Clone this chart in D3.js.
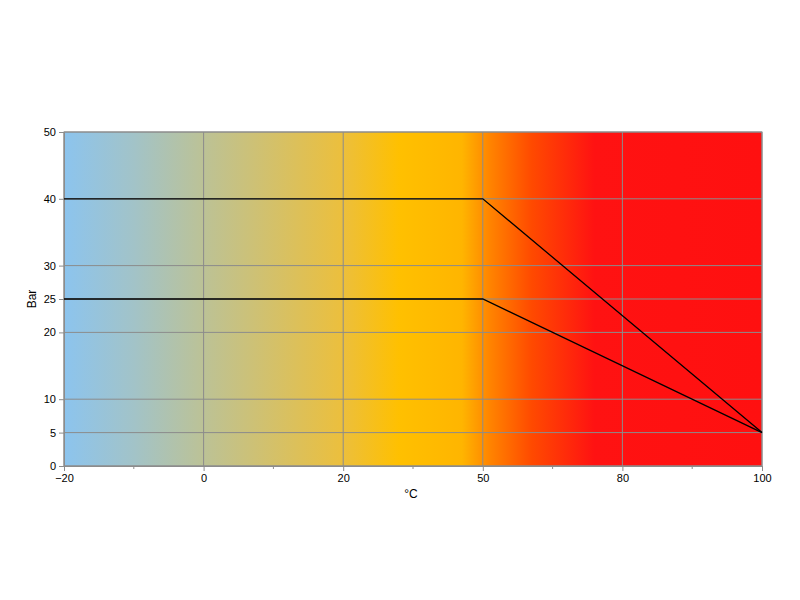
<!DOCTYPE html>
<html><head><meta charset="utf-8">
<script src="https://cdn.jsdelivr.net/npm/d3@7"></script>
<style>body{margin:0;background:#fff}</style></head>
<body><svg id="c" width="800" height="600"></svg>
<script>
const xTicks = [-20, 0, 20, 50, 80, 100];
const yTicks = [0, 5, 10, 20, 25, 30, 40, 50];
const upperTemp = [-20, 50, 100];
const upperBar = [40, 40, 5];
const lowerTemp = [-20, 50, 100];
const lowerBar = [25, 25, 5];

const svg = d3.select("#c");
const L = 64, R = 762, T = 132, B = 466;
const step = (R - L) / (xTicks.length - 1);
const x = d3.scaleLinear().domain(xTicks).range(xTicks.map((d, i) => L + i * step));
const y = d3.scaleLinear().domain([0, 50]).range([B, T]);

const defs = svg.append("defs");
const g = defs.append("linearGradient").attr("id", "bg").attr("x1", "0").attr("x2", "1").attr("y1", "0").attr("y2", "0");
[[0, "#8cc4ee"], [0.1, "#a2c3c8"], [0.2, "#bcc296"], [0.4, "#ecbf3c"], [0.48, "#ffc000"], [0.57, "#ffb500"], [0.61, "#ff8400"], [0.67, "#ff4a00"], [0.76, "#ff1212"], [1, "#ff1010"]]
  .forEach(([o, c]) => g.append("stop").attr("offset", o).attr("stop-color", c));

svg.append("rect").attr("x", L).attr("y", T).attr("width", R - L).attr("height", B - T).attr("fill", "url(#bg)");

// grid
svg.append("g").selectAll("line").data(yTicks).join("line")
  .attr("x1", L).attr("x2", R).attr("y1", d => y(d)).attr("y2", d => y(d))
  .attr("stroke", "#8c8c8c").attr("stroke-width", 1);
svg.append("g").selectAll("line").data(xTicks).join("line")
  .attr("y1", T).attr("y2", B).attr("x1", d => x(d)).attr("x2", d => x(d))
  .attr("stroke", "#8c8c8c").attr("stroke-width", 1);
svg.append("rect").attr("x", L).attr("y", T).attr("width", R - L).attr("height", B - T)
  .attr("fill", "none").attr("stroke", "#8c8c8c");

// axes
const xa = svg.append("g").attr("transform", `translate(0,${B})`)
  .call(d3.axisBottom(x).tickValues(xTicks).tickSize(5).tickFormat(d3.format("d")));
// minor ticks
svg.append("g").selectAll("line").data(d3.range(xTicks.length - 1)).join("line")
  .attr("x1", i => L + (i + 0.5) * step).attr("x2", i => L + (i + 0.5) * step)
  .attr("y1", B).attr("y2", B + 3).attr("stroke", "#8c8c8c");
const ya = svg.append("g").attr("transform", `translate(${L},0)`)
  .call(d3.axisLeft(y).tickValues(yTicks).tickSize(5));
[xa, ya].forEach(a => {
  a.select(".domain").attr("stroke", "#8c8c8c");
  a.selectAll(".tick line").attr("stroke", "#8c8c8c");
  a.selectAll("text").attr("font-family", "Liberation Sans, Arial, sans-serif").attr("font-size", 11).attr("fill", "#000");
});

const line = d3.line().x(d => x(d[0])).y(d => y(d[1]));
[[upperTemp, upperBar], [lowerTemp, lowerBar]].forEach(([t, b]) => {
  svg.append("path").datum(t.map((v, i) => [v, b[i]])).attr("d", line)
    .attr("fill", "none").attr("stroke", "#000").attr("stroke-width", 1.3);
});

svg.append("text").attr("x", (L + R) / 2 - 2).attr("y", 498).attr("text-anchor", "middle")
  .attr("font-family", "Liberation Sans, Arial, sans-serif").attr("font-size", 12).text("°C");
svg.append("text").attr("transform", `translate(36,${(T + B) / 2}) rotate(-90)`).attr("text-anchor", "middle")
  .attr("font-family", "Liberation Sans, Arial, sans-serif").attr("font-size", 12).text("Bar");
</script></body></html>
